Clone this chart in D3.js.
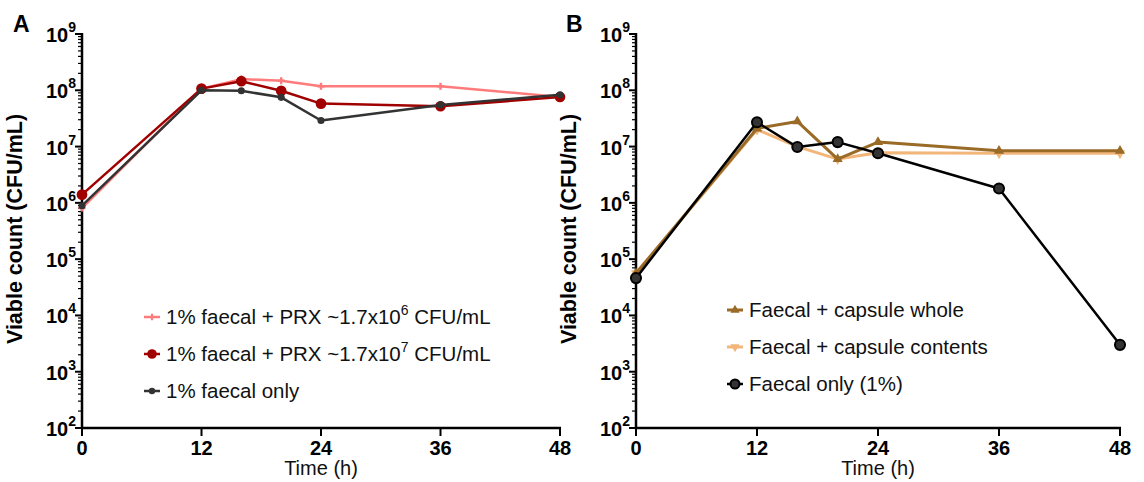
<!DOCTYPE html>
<html>
<head>
<meta charset="utf-8">
<script src="https://cdn.jsdelivr.net/npm/d3@7"></script>
<style>
  html, body { margin: 0; padding: 0; background: #fff; }
  svg { display: block; font-family: "Liberation Sans", Arial, sans-serif; }
</style>
</head>
<body>
<svg id="chart" width="1144" height="482"></svg>
<script>
// Sampling times (h)
const timesA = [0, 12, 16, 20, 24, 36, 48];
const timesB = [0, 12, 16, 20, 24, 36, 48];

// Panel A: viable counts (CFU/mL)
const prxLow  = [8.1e5, 1.07e8, 1.58e8, 1.48e8, 1.18e8, 1.18e8, 7.6e7];
const prxHigh = [1.4e6, 1.07e8, 1.45e8, 9.8e7, 5.8e7, 5.2e7, 7.6e7];
const faecalA = [8.9e5, 1.0e8, 9.8e7, 7.5e7, 2.9e7, 5.5e7, 8.3e7];

// Panel B: viable counts (CFU/mL)
const capsuleWhole    = [5.6e4, 2.1e7, 2.8e7, 6.0e6, 1.2e7, 8.4e6, 8.4e6];
const capsuleContents = [5.6e4, 2.0e7, 1.0e7, 6.0e6, 7.8e6, 7.6e6, 7.6e6];
const faecalB         = [4.6e4, 2.7e7, 9.8e6, 1.2e7, 7.6e6, 1.8e6, 3.0e3];

// Axis ticks
const xTicks = [0, 12, 24, 36, 48];
const yExponents = [2, 3, 4, 5, 6, 7, 8, 9];

const svg = d3.select("#chart");

function drawPanel(opts) {
  const g = svg.append("g");
  const x = d3.scaleLinear().domain([0, 48]).range([opts.left, opts.right]);
  const y = d3.scaleLog().domain([1e2, 1e9]).range([428, 34]);

  // Minor log ticks
  const minor = [];
  for (let e = 2; e < 9; e++) for (let m = 2; m <= 9; m++) minor.push(m * Math.pow(10, e));
  g.selectAll("line.minor").data(minor).join("line")
    .attr("x1", opts.left - 4).attr("x2", opts.left)
    .attr("y1", d => y(d)).attr("y2", d => y(d))
    .attr("stroke", "#000").attr("stroke-width", 1.2);

  // Major y ticks
  g.selectAll("line.major").data(yExponents).join("line")
    .attr("x1", opts.left - 7).attr("x2", opts.left)
    .attr("y1", d => y(Math.pow(10, d))).attr("y2", d => y(Math.pow(10, d)))
    .attr("stroke", "#000").attr("stroke-width", 2);

  // y tick labels 10^n
  const yl = g.selectAll("text.ylab").data(yExponents).join("text")
    .attr("x", opts.left - 6).attr("y", d => y(Math.pow(10, d)) + 8)
    .attr("text-anchor", "end")
    .attr("font-weight", "bold").attr("font-size", 20).attr("fill", "#000");
  yl.append("tspan").text("10");
  yl.append("tspan").attr("dy", -10).attr("font-size", 14).text(d => d);

  // x ticks
  g.selectAll("line.xt").data(xTicks).join("line")
    .attr("x1", d => x(d)).attr("x2", d => x(d))
    .attr("y1", 428).attr("y2", 436)
    .attr("stroke", "#000").attr("stroke-width", 2);
  g.selectAll("text.xlab").data(xTicks).join("text")
    .attr("x", d => x(d)).attr("y", 455)
    .attr("text-anchor", "middle")
    .attr("font-weight", "bold").attr("font-size", 20).attr("fill", "#000")
    .text(d => d);

  // Axis lines
  g.append("line").attr("x1", opts.left).attr("x2", opts.left)
    .attr("y1", 33).attr("y2", 429).attr("stroke", "#000").attr("stroke-width", 2.5);
  g.append("line").attr("x1", opts.left - 1).attr("x2", opts.right + 1)
    .attr("y1", 428).attr("y2", 428).attr("stroke", "#000").attr("stroke-width", 2.5);

  // Axis titles
  g.append("text")
    .attr("x", (opts.left + opts.right) / 2).attr("y", 475)
    .attr("text-anchor", "middle").attr("font-size", 20).attr("fill", "#111")
    .text("Time (h)");
  g.append("text")
    .attr("transform", `translate(${opts.left - 60},229) rotate(-90)`)
    .attr("text-anchor", "middle").attr("font-size", 21.5).attr("font-weight", "bold").attr("fill", "#000")
    .text("Viable count (CFU/mL)");

  // Panel letter
  g.append("text").attr("x", opts.letterX).attr("y", 32)
    .attr("font-size", 23).attr("font-weight", "bold").text(opts.letter);

  const line = d3.line().x(d => x(d[0])).y(d => y(d[1]));

  // Draw series in their stacking order
  opts.series.slice().sort((a, b) => a.z - b.z).forEach(s => {
    const pts = opts.times.map((t, i) => [t, s.values[i]]);
    g.append("path").datum(pts).attr("d", line)
      .attr("fill", "none").attr("stroke", s.color).attr("stroke-width", s.width)
      .attr("stroke-linejoin", "round");
    g.selectAll(null).data(pts).join("path")
      .attr("transform", d => `translate(${x(d[0])},${y(d[1])})` + (s.flip ? " rotate(180)" : ""))
      .attr("d", d3.symbol().type(s.symbol).size(s.size)())
      .attr("fill", s.fill).attr("stroke", s.stroke).attr("stroke-width", s.strokeWidth);
  });

  // Legend
  opts.series.forEach((s, i) => {
    const ly = opts.legendY + i * opts.legendGap;
    const lx = opts.legendX;
    g.append("line").attr("x1", lx - 8).attr("x2", lx + 8).attr("y1", ly).attr("y2", ly)
      .attr("stroke", s.color).attr("stroke-width", s.width);
    g.append("path")
      .attr("transform", `translate(${lx},${ly})` + (s.flip ? " rotate(180)" : ""))
      .attr("d", d3.symbol().type(s.symbol).size(s.size * 0.8)())
      .attr("fill", s.fill).attr("stroke", s.stroke).attr("stroke-width", s.strokeWidth);
    const t = g.append("text").attr("x", lx + 14).attr("y", ly + 7)
      .attr("font-size", 20.5).attr("fill", "#111");
    s.label.forEach(part => {
      if (part.sup) t.append("tspan").attr("dy", -9).attr("font-size", 14).text(part.sup);
      else t.append("tspan").attr("dy", part.down ? 9 : 0).text(part.text);
    });
  });
}

drawPanel({
  letter: "A", letterX: 13, left: 82, right: 560, times: timesA,
  legendX: 152, legendY: 317, legendGap: 37,
  series: [
    { values: prxLow, color: "#ff7b7b", width: 2.5, symbol: d3.symbolCross, size: 28, z: 0,
      fill: "#ff7b7b", stroke: "none", strokeWidth: 0,
      label: [{ text: "1% faecal + PRX ~1.7x10" }, { sup: "6" }, { text: " CFU/mL", down: true }] },
    { values: prxHigh, color: "#a00000", width: 2.5, symbol: d3.symbolCircle, size: 90, z: 1,
      fill: "#a00000", stroke: "none", strokeWidth: 0,
      label: [{ text: "1% faecal + PRX ~1.7x10" }, { sup: "7" }, { text: " CFU/mL", down: true }] },
    { values: faecalA, color: "#333333", width: 2.5, symbol: d3.symbolCircle, size: 40, z: 2,
      fill: "#333333", stroke: "none", strokeWidth: 0,
      label: [{ text: "1% faecal only" }] }
  ]
});

drawPanel({
  letter: "B", letterX: 566, left: 636, right: 1120, times: timesB,
  legendX: 735, legendY: 310, legendGap: 37,
  series: [
    { values: capsuleWhole, color: "#9a6a27", width: 3, symbol: d3.symbolTriangle, size: 45, z: 1,
      fill: "#9a6a27", stroke: "none", strokeWidth: 0,
      label: [{ text: "Faecal + capsule whole" }] },
    { values: capsuleContents, color: "#f2b57a", width: 3, symbol: d3.symbolTriangle, size: 45, flip: true, z: 0,
      fill: "#f2b57a", stroke: "none", strokeWidth: 0,
      label: [{ text: "Faecal + capsule contents" }] },
    { values: faecalB, color: "#000000", width: 2.5, symbol: d3.symbolCircle, size: 80, z: 2,
      fill: "#333333", stroke: "#000", strokeWidth: 2,
      label: [{ text: "Faecal only (1%)" }] }
  ]
});
</script>
</body>
</html>
